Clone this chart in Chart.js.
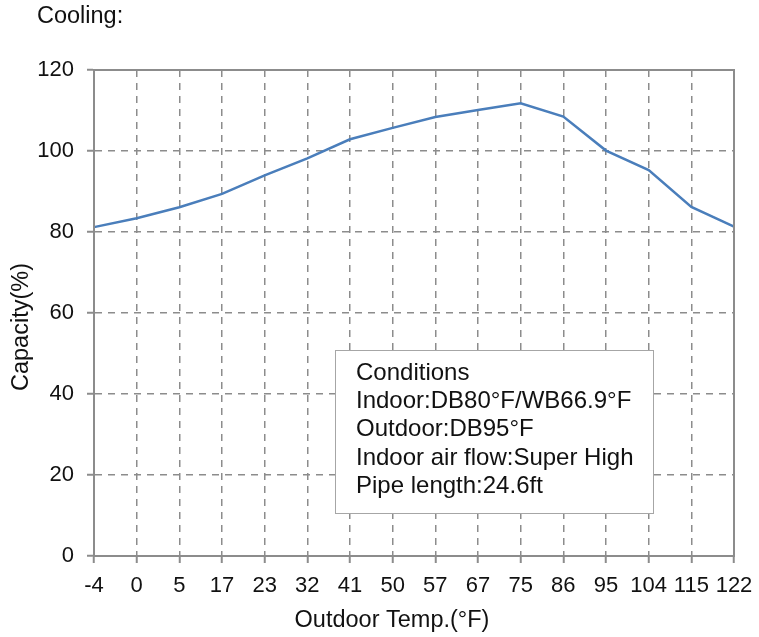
<!DOCTYPE html>
<html>
<head>
<meta charset="utf-8">
<script src="https://cdn.jsdelivr.net/npm/chart.js@4/dist/chart.umd.min.js"></script>
<style>
  html, body { margin: 0; padding: 0; background: #fff; }
  #wrap { width: 759px; height: 637px; position: relative; }
</style>
</head>
<body>
<div id="wrap"><canvas id="capChart"></canvas></div>
<script>
// Cooling capacity vs outdoor temperature
const temps = ['-4', '0', '5', '17', '23', '32', '41', '50', '57', '67', '75', '86', '95', '104', '115', '122'];
const capacity = [81.2, 83.4, 86.1, 89.4, 94.0, 98.2, 102.9, 105.7, 108.4, 110.1, 111.8, 108.5, 100.1, 95.3, 86.2, 81.3];
const yTicks = [0, 20, 40, 60, 80, 100, 120];
const conditionLines = [
    'Conditions',
    'Indoor:DB80\u00B0F/WB66.9\u00B0F',
    'Outdoor:DB95\u00B0F',
    'Indoor air flow:Super High',
    'Pipe length:24.6ft'
];

const FONT = "'Liberation Sans', Arial, sans-serif";
const gridColor = '#8c8c8c';

// frame, titles and conditions box
const extrasPlugin = {
    id: 'extras',
    afterDraw(chart) {
        const ctx = chart.ctx;
        const a = chart.chartArea;
        ctx.save();
        // solid frame over the dashed edge lines
        ctx.strokeStyle = gridColor;
        ctx.lineWidth = 2;
        ctx.setLineDash([]);
        ctx.strokeRect(a.left, a.top, a.right - a.left, a.bottom - a.top);

        ctx.fillStyle = '#111';
        ctx.textBaseline = 'middle';

        // title
        ctx.font = '23.5px ' + FONT;
        ctx.textAlign = 'left';
        ctx.fillText('Cooling:', 37, 17);

        // axis titles (sit a little off-centre in the original)
        ctx.font = '23.5px ' + FONT;
        ctx.textAlign = 'center';
        ctx.fillText('Outdoor Temp.(\u00B0F)', a.left + 298, 621);
        ctx.save();
        ctx.translate(22, a.top + 257);
        ctx.rotate(-Math.PI / 2);
        ctx.fillText('Capacity(%)', 0, 0);
        ctx.restore();

        // conditions box
        const bx = a.left + 241, by = a.top + 280, bw = 318, bh = 163;
        ctx.fillStyle = '#fff';
        ctx.fillRect(bx, by, bw, bh);
        ctx.strokeStyle = '#a6a6a6';
        ctx.lineWidth = 1;
        ctx.strokeRect(bx + 0.5, by + 0.5, bw, bh);
        ctx.fillStyle = '#111';
        ctx.textAlign = 'left';
        ctx.font = '24px ' + FONT;
        conditionLines.forEach((line, i) => {
            ctx.fillText(line, bx + 21, by + 23 + i * 28.3);
        });
        ctx.restore();
    }
};

const ctx = document.getElementById('capChart');
new Chart(ctx, {
    type: 'line',
    data: {
        labels: temps,
        datasets: [{
            data: capacity,
            borderColor: '#4a7ebb',
            borderWidth: 2.5,
            pointRadius: 0,
            tension: 0,
            fill: false
        }]
    },
    options: {
        responsive: true,
        maintainAspectRatio: false,
        animation: false,
        layout: { padding: { left: 0, right: 25, top: 70, bottom: 0 } },
        plugins: { legend: { display: false }, tooltip: { enabled: false } },
        scales: {
            x: {
                offset: false,
                grid: {
                    color: gridColor, lineWidth: 1.5, offset: false,
                    tickLength: 7, tickColor: gridColor, tickWidth: 2, tickBorderDash: []
                },
                border: { color: gridColor, width: 2, dash: [7, 6] },
                ticks: {
                    color: '#111', font: { family: FONT, size: 22 },
                    autoSkip: false, maxRotation: 0, padding: 10
                },
                afterFit(scale) {
                    scale.height = 81;
                    scale.paddingLeft = 0;
                    scale.paddingRight = 0;
                }
            },
            y: {
                min: 0, max: 120,
                afterBuildTicks(scale) { scale.ticks = yTicks.map(v => ({ value: v })); },
                grid: {
                    color: gridColor, lineWidth: 1.5,
                    tickLength: 7, tickColor: gridColor, tickWidth: 2, tickBorderDash: []
                },
                border: { color: gridColor, width: 2, dash: [7, 6] },
                ticks: {
                    color: '#111', font: { family: FONT, size: 22 }, padding: 13
                },
                afterFit(scale) { scale.width = 94; }
            }
        }
    },
    plugins: [extrasPlugin]
});
</script>
</body>
</html>
